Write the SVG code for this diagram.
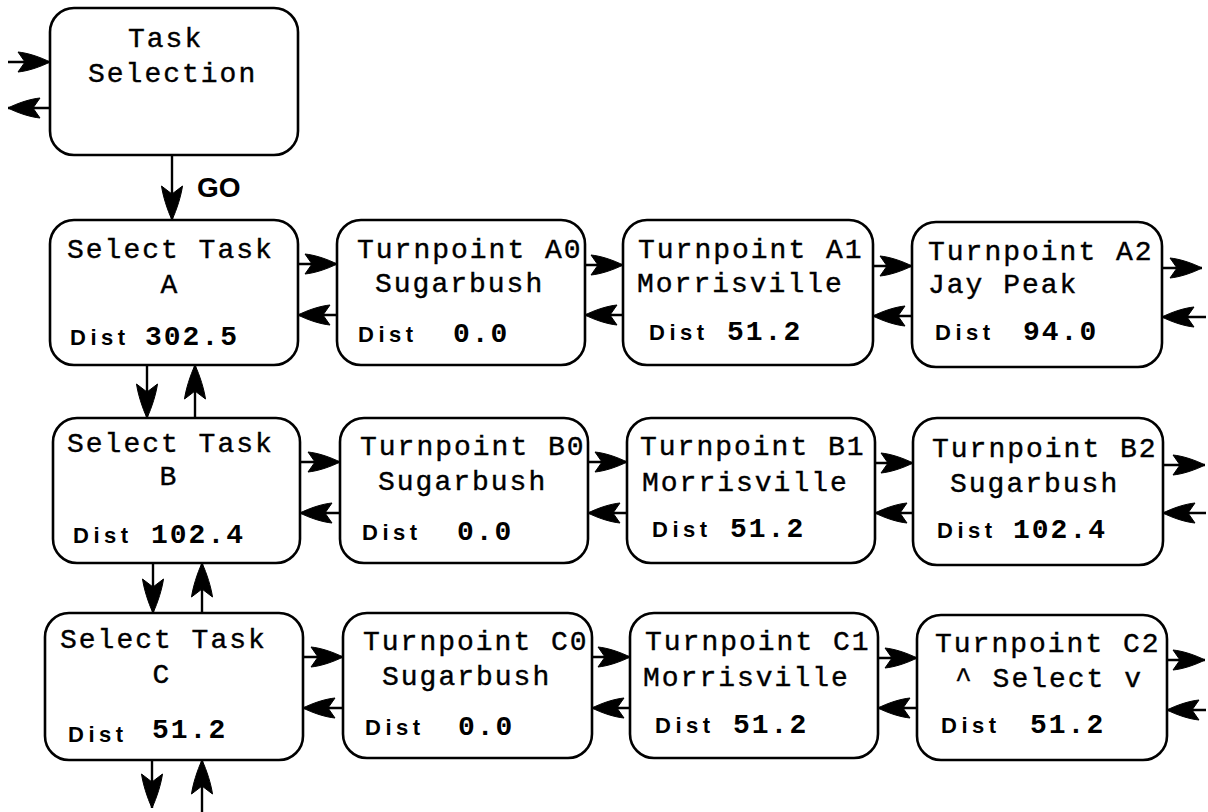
<svg xmlns="http://www.w3.org/2000/svg" xmlns:xlink="http://www.w3.org/1999/xlink" width="1208" height="812" viewBox="0 0 1208 812">
<style>
.box{fill:#fff;stroke:#000;stroke-width:2.6}
.t{font-family:"Courier New","Liberation Mono",monospace;font-size:28px;letter-spacing:2px;fill:#000;stroke:#000;stroke-width:0.4}
.n{font-family:"Courier New","Liberation Mono",monospace;font-size:28px;font-weight:bold;letter-spacing:2px;fill:#000}
.d{font-family:"Liberation Sans",Arial,sans-serif;font-size:22px;font-weight:bold;letter-spacing:4.5px;fill:#000}
.go{font-family:"Liberation Sans",Arial,sans-serif;font-size:28px;font-weight:bold;fill:#000}
.c{fill:none;stroke:#000;stroke-width:2.4}
.hd{fill:#000;stroke:#000;stroke-width:1;stroke-linejoin:miter}
</style>
<defs>
<path id="h" class="hd" d="M0,0 C-10,-5 -22,-9 -32,-10 L-25,0 L-32,10 C-22,9 -10,5 0,0 Z"/>
<path id="hv" class="hd" d="M0,0 C-11,-5 -24,-9 -34,-10.5 L-26,0 L-34,10.5 C-24,9 -11,5 0,0 Z"/>
</defs>

<g id="connectors">
<path class="c" d="M8,62 H50"/><use xlink:href="#h" href="#h" transform="translate(50,62)"/>
<path class="c" d="M50,108 H8"/><use xlink:href="#h" href="#h" transform="translate(8,108) rotate(180)"/>
<path class="c" d="M172,155 V220"/><use xlink:href="#hv" href="#hv" transform="translate(172,220) rotate(90)"/>
<path class="c" d="M147,365 V418"/><use xlink:href="#hv" href="#hv" transform="translate(147,418) rotate(90)"/>
<path class="c" d="M195,418 V365"/><use xlink:href="#hv" href="#hv" transform="translate(195,365) rotate(-90)"/>
<path class="c" d="M153,563 V613"/><use xlink:href="#hv" href="#hv" transform="translate(153,613) rotate(90)"/>
<path class="c" d="M202,613 V563"/><use xlink:href="#hv" href="#hv" transform="translate(202,563) rotate(-90)"/>
<path class="c" d="M152,760 V808"/><use xlink:href="#hv" href="#hv" transform="translate(152,808) rotate(90)"/>
<path class="c" d="M202,812 V760"/><use xlink:href="#hv" href="#hv" transform="translate(202,760) rotate(-90)"/>

<path class="c" d="M298,264 H337"/><use xlink:href="#h" href="#h" transform="translate(337,264)"/>
<path class="c" d="M337,315 H298"/><use xlink:href="#h" href="#h" transform="translate(298,315) rotate(180)"/>
<path class="c" d="M585,265 H623"/><use xlink:href="#h" href="#h" transform="translate(623,265)"/>
<path class="c" d="M623,315 H585"/><use xlink:href="#h" href="#h" transform="translate(585,315) rotate(180)"/>
<path class="c" d="M873,266 H912"/><use xlink:href="#h" href="#h" transform="translate(912,266)"/>
<path class="c" d="M912,316 H873"/><use xlink:href="#h" href="#h" transform="translate(873,316) rotate(180)"/>
<path class="c" d="M1162,268 H1202"/><use xlink:href="#h" href="#h" transform="translate(1202,268)"/>
<path class="c" d="M1206,317 H1162"/><use xlink:href="#h" href="#h" transform="translate(1162,317) rotate(180)"/>

<path class="c" d="M300,462 H340"/><use xlink:href="#h" href="#h" transform="translate(340,462)"/>
<path class="c" d="M340,513 H300"/><use xlink:href="#h" href="#h" transform="translate(300,513) rotate(180)"/>
<path class="c" d="M588,462 H627"/><use xlink:href="#h" href="#h" transform="translate(627,462)"/>
<path class="c" d="M627,513 H588"/><use xlink:href="#h" href="#h" transform="translate(588,513) rotate(180)"/>
<path class="c" d="M875,463 H913"/><use xlink:href="#h" href="#h" transform="translate(913,463)"/>
<path class="c" d="M913,513 H875"/><use xlink:href="#h" href="#h" transform="translate(875,513) rotate(180)"/>
<path class="c" d="M1163,465 H1205"/><use xlink:href="#h" href="#h" transform="translate(1205,465)"/>
<path class="c" d="M1206,513 H1163"/><use xlink:href="#h" href="#h" transform="translate(1163,513) rotate(180)"/>

<path class="c" d="M303,657 H343"/><use xlink:href="#h" href="#h" transform="translate(343,657)"/>
<path class="c" d="M343,708 H303"/><use xlink:href="#h" href="#h" transform="translate(303,708) rotate(180)"/>
<path class="c" d="M592,657 H630"/><use xlink:href="#h" href="#h" transform="translate(630,657)"/>
<path class="c" d="M630,708 H592"/><use xlink:href="#h" href="#h" transform="translate(592,708) rotate(180)"/>
<path class="c" d="M878,658 H917"/><use xlink:href="#h" href="#h" transform="translate(917,658)"/>
<path class="c" d="M917,708 H878"/><use xlink:href="#h" href="#h" transform="translate(878,708) rotate(180)"/>
<path class="c" d="M1167,660 H1205"/><use xlink:href="#h" href="#h" transform="translate(1205,660)"/>
<path class="c" d="M1206,710 H1167"/><use xlink:href="#h" href="#h" transform="translate(1167,710) rotate(180)"/>
<text class="go" x="197" y="197">GO</text>
</g>

<g id="task-selection">
<rect class="box" x="50" y="8" width="248" height="147" rx="24"/>
<text class="t" x="128" y="47">Task</text>
<text class="t" x="88" y="82">Selection</text>
</g>

<g id="select-task-a">
<rect class="box" x="50" y="220" width="248" height="145" rx="24"/>
<text class="t" x="67" y="258">Select Task</text>
<text class="t" x="170" y="293" text-anchor="middle">A</text>
<text class="d" x="70" y="345">Dist</text>
<text class="n" x="145" y="345">302.5</text>
</g>
<g id="turnpoint-a0">
<rect class="box" x="337" y="220" width="248" height="145" rx="24"/>
<text class="t" x="357" y="258">Turnpoint A0</text>
<text class="t" x="375" y="292">Sugarbush</text>
<text class="d" x="358" y="342">Dist</text>
<text class="n" x="453" y="342">0.0</text>
</g>
<g id="turnpoint-a1">
<rect class="box" x="623" y="220" width="250" height="145" rx="24"/>
<text class="t" x="638" y="258">Turnpoint A1</text>
<text class="t" x="637" y="292">Morrisville</text>
<text class="d" x="649" y="340">Dist</text>
<text class="n" x="727" y="340">51.2</text>
</g>
<g id="turnpoint-a2">
<rect class="box" x="912" y="222" width="250" height="145" rx="24"/>
<text class="t" x="928" y="260">Turnpoint A2</text>
<text class="t" x="928" y="293">Jay Peak</text>
<text class="d" x="935" y="340">Dist</text>
<text class="n" x="1023" y="340">94.0</text>
</g>

<g id="select-task-b">
<rect class="box" x="53" y="418" width="247" height="145" rx="24"/>
<text class="t" x="67" y="452">Select Task</text>
<text class="t" x="169" y="485" text-anchor="middle">B</text>
<text class="d" x="73" y="543">Dist</text>
<text class="n" x="151" y="543">102.4</text>
</g>
<g id="turnpoint-b0">
<rect class="box" x="340" y="418" width="248" height="145" rx="24"/>
<text class="t" x="360" y="455">Turnpoint B0</text>
<text class="t" x="378" y="490">Sugarbush</text>
<text class="d" x="362" y="540">Dist</text>
<text class="n" x="457" y="540">0.0</text>
</g>
<g id="turnpoint-b1">
<rect class="box" x="627" y="418" width="248" height="145" rx="24"/>
<text class="t" x="640" y="455">Turnpoint B1</text>
<text class="t" x="642" y="491">Morrisville</text>
<text class="d" x="652" y="537">Dist</text>
<text class="n" x="730" y="537">51.2</text>
</g>
<g id="turnpoint-b2">
<rect class="box" x="913" y="418" width="250" height="147" rx="24"/>
<text class="t" x="932" y="457">Turnpoint B2</text>
<text class="t" x="950" y="492">Sugarbush</text>
<text class="d" x="937" y="538">Dist</text>
<text class="n" x="1013" y="538">102.4</text>
</g>

<g id="select-task-c">
<rect class="box" x="45" y="613" width="258" height="147" rx="24"/>
<text class="t" x="60" y="648">Select Task</text>
<text class="t" x="162" y="683" text-anchor="middle">C</text>
<text class="d" x="68" y="742">Dist</text>
<text class="n" x="152" y="738">51.2</text>
</g>
<g id="turnpoint-c0">
<rect class="box" x="343" y="613" width="249" height="145" rx="24"/>
<text class="t" x="363" y="650">Turnpoint C0</text>
<text class="t" x="382" y="685">Sugarbush</text>
<text class="d" x="365" y="735">Dist</text>
<text class="n" x="458" y="735">0.0</text>
</g>
<g id="turnpoint-c1">
<rect class="box" x="630" y="613" width="248" height="145" rx="24"/>
<text class="t" x="645" y="650">Turnpoint C1</text>
<text class="t" x="643" y="686">Morrisville</text>
<text class="d" x="655" y="733">Dist</text>
<text class="n" x="733" y="733">51.2</text>
</g>
<g id="turnpoint-c2">
<rect class="box" x="917" y="615" width="250" height="145" rx="24"/>
<text class="t" x="935" y="652">Turnpoint C2</text>
<text class="t" x="955" y="687">^ Select v</text>
<text class="d" x="941" y="733">Dist</text>
<text class="n" x="1030" y="733">51.2</text>
</g>
</svg>
